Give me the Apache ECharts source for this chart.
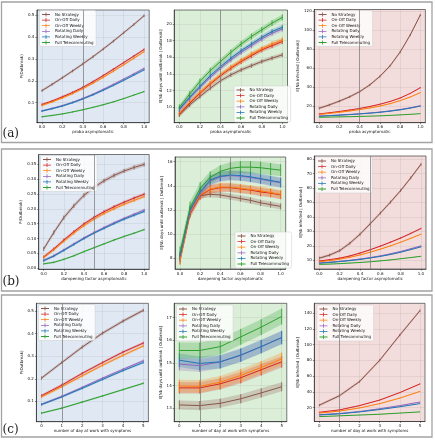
<!DOCTYPE html>
<html><head><meta charset="utf-8">
<script src="https://cdn.jsdelivr.net/npm/echarts@6/dist/echarts.min.js"></script>
<style>html,body{margin:0;padding:0;background:#fff}#c{width:435px;height:440px}</style>
</head><body><div id="c"></div>
<script>
// ---------- DATA ----------
const seriesNames = ['No Strategy','On-Off Daily','On-Off Weekly','Rotating Daily','Rotating Weekly','Full Telecommuting'];
const xProba = [0,0.1,0.2,0.3,0.4,0.5,0.6,0.7,0.8,0.9,1.0];
const xDays = [0,1,2,3,4,5];
const xTicksProba = [0,0.2,0.4,0.6,0.8,1.0];
const xTicksDays = [0,1,2,3,4,5];

// row (a): proba asymptomatic
const a1Vals = [
  [0.155,0.184,0.214,0.245,0.277,0.310,0.345,0.381,0.419,0.457,0.497],
  [0.092,0.108,0.127,0.147,0.170,0.196,0.224,0.253,0.283,0.313,0.343],
  [0.088,0.104,0.122,0.142,0.164,0.189,0.216,0.244,0.273,0.303,0.333],
  [0.063,0.074,0.087,0.102,0.120,0.139,0.161,0.184,0.208,0.232,0.257],
  [0.062,0.073,0.085,0.100,0.117,0.136,0.157,0.179,0.202,0.226,0.250],
  [0.036,0.042,0.049,0.058,0.068,0.079,0.091,0.104,0.119,0.135,0.151]];
const a1Err = [0.006,0.005,0.005,0.004,0.004,0.003];
const a1Ticks = [0.1,0.2,0.3,0.4,0.5];

const a2Vals = [
  [9.1,10.3,11.3,12.3,13.2,13.9,14.5,15.0,15.5,15.9,16.3],
  [9.2,10.5,11.7,12.8,13.8,14.7,15.5,16.2,16.9,17.4,17.9],
  [9.3,10.6,11.8,12.9,13.9,14.8,15.6,16.4,17.0,17.6,18.1],
  [9.7,11.1,12.4,13.6,14.7,15.7,16.6,17.4,18.2,18.9,19.4],
  [9.8,11.2,12.5,13.8,14.9,15.9,16.8,17.6,18.4,19.1,19.6],
  [10.0,11.6,13.1,14.4,15.5,16.6,17.6,18.5,19.3,20.1,20.8]];
const a2Err = [0.25,0.3,0.3,0.3,0.3,0.35];
const a2Ticks = [10,12,14,16,18,20];

const a3Vals = [
  [18,21.5,25.5,30,35.5,42.5,51.5,62.5,77,95,116],
  [12,13.2,14.6,16.1,17.8,19.8,22.2,25.1,28.7,33.6,39.6],
  [11.5,12.6,13.8,15.1,16.6,18.3,20.3,22.8,26.0,29.8,34.4],
  [9.8,10.3,10.9,11.5,12.2,13.0,14.0,15.2,16.7,18.5,20.7],
  [9.6,10.1,10.7,11.3,12.0,12.8,13.7,14.9,16.3,18.1,20.2],
  [8.5,8.7,8.9,9.1,9.4,9.7,10.0,10.5,11.0,11.6,12.3]];
const a3Err = [1.2,0.5,0.5,0.3,0.3,0.2];
const a3Ticks = [20,40,60,80,100,120];

// row (b): dampening factor asymptomatic
const b1Vals = [
  [0.065,0.120,0.170,0.210,0.245,0.272,0.294,0.312,0.327,0.339,0.349],
  [0.038,0.065,0.095,0.123,0.149,0.171,0.190,0.207,0.222,0.236,0.249],
  [0.036,0.062,0.091,0.118,0.143,0.165,0.184,0.200,0.215,0.228,0.241],
  [0.026,0.042,0.062,0.082,0.102,0.120,0.137,0.153,0.168,0.182,0.196],
  [0.026,0.041,0.060,0.080,0.100,0.118,0.134,0.150,0.165,0.178,0.191],
  [0.015,0.020,0.030,0.042,0.056,0.069,0.082,0.095,0.107,0.118,0.130]];
const b1Err = [0.007,0.005,0.005,0.004,0.004,0.003];
const b1Ticks = [0,0.05,0.10,0.15,0.20,0.25,0.30,0.35];

const b2Vals = [
  [8.2,11.9,13.2,13.3,13.25,13.1,12.95,12.8,12.6,12.45,12.3],
  [7.9,11.7,13.2,13.7,13.85,13.85,13.75,13.65,13.5,13.4,13.25],
  [7.8,11.8,13.25,13.75,13.9,13.9,13.8,13.7,13.6,13.45,13.3],
  [8.1,11.9,13.4,14.4,14.75,14.85,14.8,14.7,14.55,14.4,14.25],
  [8.2,12.0,13.5,14.5,14.8,14.9,14.85,14.75,14.6,14.45,14.3],
  [8.5,12.2,13.8,14.7,15.2,15.45,15.55,15.55,15.5,15.4,15.3]];
const b2Err = [0.25,0.35,0.35,0.4,0.4,0.5];
const b2Ticks = [8,10,12,14,16];

const b3Vals = [
  [11.5,13.6,16.7,21.8,28.0,35.2,42.6,50.2,58.2,67.0,76.3],
  [9.5,10.4,11.5,13.0,15.0,17.3,19.8,22.5,25.4,28.6,32.0],
  [9.0,9.8,10.8,12.1,13.7,15.6,17.7,20.0,22.5,25.2,28.0],
  [8.2,8.7,9.3,10.0,10.9,11.9,13.1,14.5,16.1,18.0,20.0],
  [8.0,8.5,9.1,9.8,10.6,11.6,12.7,14.0,15.6,17.4,19.3],
  [7.2,7.4,7.7,8.1,8.5,9.0,9.6,10.3,11.1,11.9,12.8]];
const b3Err = [1.0,0.5,0.4,0.3,0.3,0.2];
const b3Ticks = [10,20,30,40,50,60,70,80];

// row (c): number of day at work with symptoms
const c1Vals = [
  [0.203,0.272,0.340,0.402,0.455,0.503],
  [0.125,0.172,0.224,0.272,0.318,0.358],
  [0.120,0.165,0.213,0.260,0.304,0.345],
  [0.087,0.122,0.162,0.203,0.242,0.280],
  [0.086,0.120,0.158,0.197,0.236,0.272],
  [0.048,0.070,0.097,0.124,0.152,0.180]];
const c1Err = [0.007,0.006,0.006,0.005,0.005,0.004];
const c1Ticks = [0.1,0.2,0.3,0.4,0.5];

const c2Vals = [
  [13.15,13.12,13.22,13.42,13.68,13.95],
  [13.90,13.90,14.08,14.35,14.70,15.05],
  [13.98,13.97,14.15,14.45,14.80,15.18],
  [14.95,14.88,15.05,15.33,15.72,16.12],
  [15.12,14.98,15.05,15.35,15.72,16.12],
  [15.55,15.55,15.72,16.15,16.58,17.05]];
const c2Err = [0.2,0.25,0.28,0.28,0.3,0.35];
const c2Ticks = [13,14,15,16,17];

const c3Vals = [
  [23,35,53,80,112,143],
  [14,17,22.5,29.5,39,50],
  [13,15.5,19.5,25,32,40.5],
  [11,12.5,15,18.5,22.5,27],
  [10.5,12,14.5,17.5,21,25],
  [8.5,9.5,10.5,11.5,13,14.5]];
const c3Err = [1.5,0.6,0.5,0.4,0.3,0.2];
const c3Ticks = [20,40,60,80,100,120,140];

const xNames = ['proba asymptomatic','dampening factor asymptomatic','number of day at work with symptoms'];
const yNames = ['P(Outbreak)','E[Nb days until outbreak | Outbreak]','E[Nb infected | Outbreak]'];
const panelLabels = ['(a)','(b)','(c)'];
const markerX = [0.4, 0.5, 1];

// ---------- STYLE / LAYOUT ----------
const colors = ['#8c564b','#d62728','#ff7f0e','#9467bd','#1f77b4','#2ca02c'];
const bgs = ['#dfe8f3','#dbeed8','#f3dcdc'];
const FONT = 'DejaVu Sans';

const panels = [
  {row:0,col:0,x:xProba,xt:xTicksProba,vals:a1Vals,err:a1Err,yt:a1Ticks,dec:1,xmin:-0.05,xmax:1.05,ymin:0.009,ymax:0.523,
   g:{left:36.8,top:10,width:112.4,height:112.7}, lg:{left:39.5,top:10.5}, ng:10},
  {row:0,col:1,x:xProba,xt:xTicksProba,vals:a2Vals,err:a2Err,yt:a2Ticks,dec:0,xmin:-0.05,xmax:1.05,ymin:8.16,ymax:21.68,
   g:{left:174.2,top:10,width:113.3,height:112.7}, lg:{left:234,top:86}, ng:8},
  {row:0,col:2,x:xProba,xt:xTicksProba,vals:a3Vals,err:a3Err,yt:a3Ticks,dec:0,xmin:-0.05,xmax:1.05,ymin:2.8,ymax:121.75,
   g:{left:314.2,top:9.5,width:111.2,height:113.2}, lg:{left:316,top:10.5}, ng:10},
  {row:1,col:0,x:xProba,xt:xTicksProba,vals:b1Vals,err:b1Err,yt:b1Ticks,dec:2,xmin:-0.05,xmax:1.05,ymin:-0.0034,ymax:0.3824,
   g:{left:38.7,top:154.5,width:110.5,height:114.8}, lg:{left:40.5,top:155.5}, ng:12},
  {row:1,col:1,x:xProba,xt:xTicksProba,vals:b2Vals,err:b2Err,yt:b2Ticks,dec:0,xmin:-0.05,xmax:1.05,ymin:7.12,ymax:16.39,
   g:{left:175,top:157,width:110.7,height:112}, lg:{left:235,top:232}, ng:8},
  {row:1,col:2,x:xProba,xt:xTicksProba,vals:b3Vals,err:b3Err,yt:b3Ticks,dec:0,xmin:-0.05,xmax:1.05,ymin:4.0,ymax:82.1,
   g:{left:314.3,top:156,width:111.7,height:113}, lg:{left:315.5,top:157}, ng:8},
  {row:2,col:0,x:xDays,xt:xTicksDays,vals:c1Vals,err:c1Err,yt:c1Ticks,dec:1,xmin:-0.25,xmax:5.25,ymin:0.01,ymax:0.534,
   g:{left:36.4,top:303.3,width:112,height:118.4}, lg:{left:38.5,top:304.5}, ng:10},
  {row:2,col:1,x:xDays,xt:xTicksDays,vals:c2Vals,err:c2Err,yt:c2Ticks,dec:0,xmin:-0.25,xmax:5.25,ymin:12.41,ymax:17.63,
   g:{left:174.2,top:303.3,width:112.6,height:118.4}, lg:{left:176.5,top:305}, ng:8},
  {row:2,col:2,x:xDays,xt:xTicksDays,vals:c3Vals,err:c3Err,yt:c3Ticks,dec:0,xmin:-0.25,xmax:5.25,ymin:2.3,ymax:152.3,
   g:{left:314.3,top:303.3,width:110.7,height:118.2}, lg:{left:317,top:305}, ng:10}
];

const legendIcon = 'path://M0,4H20V6H0Z M9,0H11V10H9Z';
const grids=[], xAxes=[], yAxes=[], series=[], legends=[];

panels.forEach((p, pi) => {
  grids.push(Object.assign({show:true, backgroundColor:bgs[p.col], borderColor:'#222', borderWidth:0.6, containLabel:false}, p.g));
  const axisCommon = {
    axisLine:{show:true,onZero:false,lineStyle:{color:'#222',width:0.6}},
    splitLine:{show:true,lineStyle:{color:'rgba(120,120,120,0.22)',width:0.5}},
    nameLocation:'middle',
    nameTextStyle:{fontSize:4,fontFamily:FONT,color:'#111'}
  };
  xAxes.push(Object.assign({}, axisCommon, {
    type:'value', gridIndex:pi, min:p.xmin, max:p.xmax,
    axisTick:{show:true,customValues:p.xt,length:1.5,lineStyle:{color:'#222',width:0.5}},
    axisLabel:{customValues:p.xt,fontSize:4,fontFamily:FONT,color:'#111',margin:2.5,
      formatter:v => p.row===2 ? String(Math.round(v)) : v.toFixed(1)},
    name:xNames[p.row], nameGap:7.5
  }));
  yAxes.push(Object.assign({}, axisCommon, {
    type:'value', gridIndex:pi, min:p.ymin, max:p.ymax,
    axisTick:{show:true,customValues:p.yt,length:1.5,lineStyle:{color:'#222',width:0.5}},
    axisLabel:{customValues:p.yt,fontSize:4,fontFamily:FONT,color:'#111',margin:2.5,
      formatter:v => v.toFixed(p.dec)},
    name:yNames[p.col], nameGap:p.ng
  }));
  seriesNames.forEach((nm, si) => {
    const vals = p.vals[si], e = p.err[si], col = colors[si];
    series.push({
      type:'custom', name:nm+' band', xAxisIndex:pi, yAxisIndex:pi, z:1, silent:true, clip:true,
      data:p.x.map((xv,i)=>[xv, vals[i]-e, vals[i]+e]),
      encode:{x:0,y:[1,2]},
      renderItem:(params, api) => {
        const lo = api.coord([api.value(0), api.value(1)]);
        const hi = api.coord([api.value(0), api.value(2)]);
        const children = [];
        if (params.dataIndex === 0) {
          const pts = [];
          p.x.forEach((xv,i)=>pts.push(api.coord([xv, vals[i]+e])));
          for (let i=p.x.length-1;i>=0;i--) pts.push(api.coord([p.x[i], vals[i]-e]));
          children.push({type:'polygon', shape:{points:pts}, style:{fill:col, opacity:0.25}});
        }
        children.push({type:'line', shape:{x1:lo[0],y1:lo[1],x2:hi[0],y2:hi[1]}, style:{stroke:col,lineWidth:0.8}});
        return {type:'group', children};
      }
    });
    const ls = {
      type:'line', name:nm, xAxisIndex:pi, yAxisIndex:pi, z:2, silent:true,
      data:p.x.map((xv,i)=>[xv, vals[i]]),
      symbol:'none', color:col, lineStyle:{color:col,width:1}, itemStyle:{color:col}
    };
    if (si === 0) {
      ls.markLine = {symbol:['none','none'], silent:true, label:{show:false},
        lineStyle:{color:'#7a7a7a',width:0.8,type:'solid',opacity:0.9}, data:[{xAxis:markerX[p.row]}]};
    }
    series.push(ls);
  });
  legends.push({
    data:seriesNames, orient:'vertical', left:p.lg.left, top:p.lg.top, icon:legendIcon,
    itemWidth:8, itemHeight:4, itemGap:1.6, padding:[2,2.5,2,2.5],
    backgroundColor:'rgba(255,255,255,0.8)', borderColor:'#cccccc', borderWidth:0.5, borderRadius:1.5,
    textStyle:{fontSize:4,fontFamily:FONT,color:'#111',lineHeight:4}, selectedMode:false
  });
});

const graphic = [];
const rowBoxes = [[1.5,2,430.5,140.5],[1.5,149,430.5,142],[1.5,295,430.5,142]];
const labelTops = [128,276,424];
rowBoxes.forEach((b, i) => {
  graphic.push({type:'rect', shape:{x:b[0],y:b[1],width:b[2],height:b[3]}, style:{fill:'none',stroke:'#a3a3a3',lineWidth:1.3}, silent:true});
  graphic.push({type:'text', left:2.5, top:labelTops[i], style:{text:panelLabels[i], fontSize:12, fontFamily:'DejaVu Serif', fill:'#222'}, silent:true});
});

const chart = echarts.init(document.getElementById('c'), null, {renderer:'canvas'});
chart.setOption({
  animation:false, grid:grids, xAxis:xAxes, yAxis:yAxes, series:series, legend:legends, graphic:graphic
});
</script></body></html>
